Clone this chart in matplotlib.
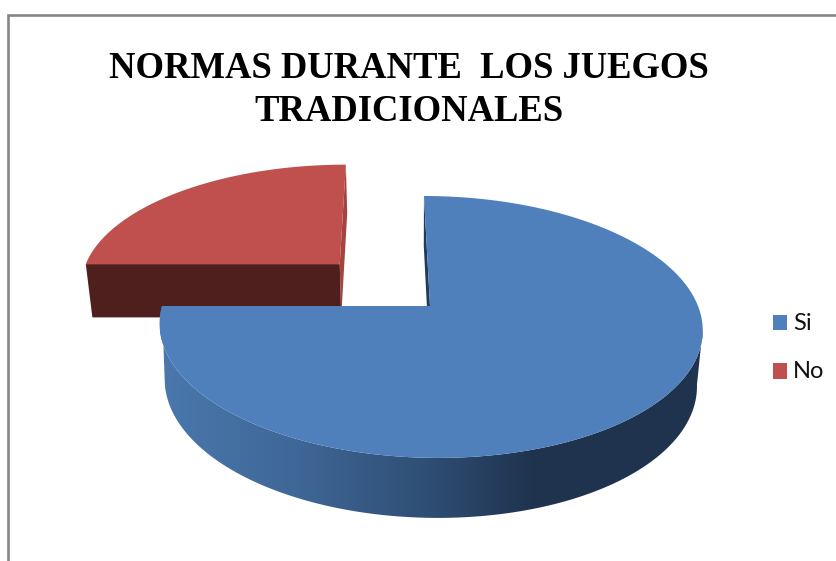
import numpy as np
import matplotlib
matplotlib.use("Agg")
import matplotlib.pyplot as plt
from matplotlib.colors import LinearSegmentedColormap
from matplotlib.patches import Polygon, Rectangle

# Chart content
title_lines = ["NORMAS DURANTE  LOS JUEGOS", "TRADICIONALES"]
labels = ["Si", "No"]
shares = [75, 25]
exploded = [0.0, 0.49]
top_colors = ["#4f80bb", "#bf504d"]
front_colors = ["#1f3a5c", "#4e1f1d"]
cut_colors = ["#1f3a5c", "#a5443f"]

W, H = 836, 561
START_ANGLE = 90.0

# Perspective camera for the tilted disc, in canvas pixels
APEX_X, APEX_Y = 430.0, 306.0
RADIUS_X, RADIUS_Y = 268.0, 127.6
SKEW, FORESHORTEN = 7.0, -0.16
VANISH_X, BASE_SHRINK = 415.0, 0.98
WALL_H, WALL_SLOPE = 55.0, 5.0


def project(u, w):
    """Map disc coordinates (u right, w towards the viewer) onto the upper face."""
    u, w = np.asarray(u, float), np.asarray(w, float)
    d = 1 + FORESHORTEN * w
    return APEX_X + (RADIUS_X * u + SKEW * w) / d, APEX_Y + RADIUS_Y * w / d


def project_base(u, w):
    """Same point on the lower face of the slab."""
    x, y = project(u, w)
    return VANISH_X + BASE_SHRINK * (x - VANISH_X), y + WALL_H + WALL_SLOPE * np.asarray(w, float)


def disc(theta_deg, offset=(0.0, 0.0)):
    t = np.radians(theta_deg)
    return offset[0] + np.cos(t), offset[1] - np.sin(t)


def xy(x, y):
    return np.column_stack([np.atleast_1d(x), np.atleast_1d(y)])


plt.rcParams["font.family"] = ["Liberation Serif", "DejaVu Serif"]
fig = plt.figure(figsize=(W / 100, H / 100), dpi=100, facecolor="white")
ax = fig.add_axes([0, 0, 1, 1])
ax.set_xlim(0, W)
ax.set_ylim(H, 0)
ax.axis("off")

# Chart frame: only the top and left edges fall inside the canvas
ax.plot([8.0, 8.0, W + 5], [H + 5, 14.5, 14.5], color="#868686", lw=1.9,
        solid_joinstyle="miter", zorder=1)

# Slice angles run clockwise from twelve o'clock
total = sum(shares)
spans = [360.0 * s / total for s in shares]
ends = START_ANGLE - np.cumsum(spans)
starts = ends + np.array(spans)

# Exploded slice sits behind the main one
mid = np.radians((starts[1] + ends[1]) / 2)
off = (exploded[1] * np.cos(mid), -exploded[1] * np.sin(mid))
arc = np.linspace(starts[1] - 360, ends[1] - 360, 120)
u, w = disc(arc, off)
# Upper corners: the arc's far end (twelve o'clock) and near end (nine o'clock)
back_u, back_w = disc(90.0, off)
left_u, left_w = disc(180.0, off)
ap = xy(*project(off[0], off[1]))
ap_b = xy(*project_base(off[0], off[1]))
back, back_b = xy(*project(back_u, back_w)), xy(*project_base(back_u, back_w))
left, left_b = xy(*project(left_u, left_w)), xy(*project_base(left_u, left_w))
ax.add_patch(Polygon(np.vstack([back, back_b, ap_b, ap]), fc=cut_colors[1], ec="none", zorder=2))
ax.add_patch(Polygon(np.vstack([left, ap, ap_b, left_b]), fc=front_colors[1], ec="none", zorder=3))
ax.add_patch(Polygon(np.vstack([ap, xy(*project(u, w))]), fc=top_colors[1], ec="none", zorder=4))

# Main slice: inner cut, shaded rim, then the upper face
ap = xy(*project(0, 0))
ap_b = xy(*project_base(0, 0))
back_u, back_w = disc(START_ANGLE)
back, back_b = xy(*project(back_u, back_w)), xy(*project_base(back_u, back_w))
ax.add_patch(Polygon(np.vstack([back, back_b, ap_b, ap]), fc=cut_colors[0], ec="none", zorder=5))

u_top, w_top = disc(np.linspace(-180, -10, 160))
u_bot, w_bot = disc(np.linspace(-10, -170, 160))
rim = Polygon(np.vstack([xy(*project(u_top, w_top)), xy(*project_base(u_bot, w_bot))]),
              fc="none", ec="none", zorder=6)
ax.add_patch(rim)
rim_cmap = LinearSegmentedColormap.from_list(
    "rim", [(0.0, "#4a78ad"), (0.25, "#3f6797"), (0.5, "#2e4d73"),
            (0.68, "#1f344f"), (1.0, "#1f334e")])
shade = ax.imshow(np.linspace(0, 1, 256)[None, :], cmap=rim_cmap, aspect="auto",
                  extent=(160, 705, H, 0), zorder=6, interpolation="bilinear")
shade.set_clip_path(rim)
ax.set_xlim(0, W)
ax.set_ylim(H, 0)

arc = np.linspace(starts[0], ends[0], 360)
u, w = disc(arc)
ax.add_patch(Polygon(np.vstack([ap, xy(*project(u, w))]), fc=top_colors[0], ec="none", zorder=7))

# Title
for line, base in zip(title_lines, (78, 121)):
    ax.text(408.5, base, line, ha="center", va="baseline", fontsize=26.4,
            fontweight="bold", color="black", zorder=8)

# Legend
for name, color, top in zip(labels, top_colors, (314.5, 363)):
    ax.add_patch(Rectangle((773, top), 14, 15.5, fc=color, ec="none", zorder=8))
    ax.text(793, top + 15, name, ha="left", va="baseline", fontsize=17,
            family=["Lato", "DejaVu Sans"], color="#111111", zorder=8)

fig.savefig("out.png", dpi=100, facecolor="white")
